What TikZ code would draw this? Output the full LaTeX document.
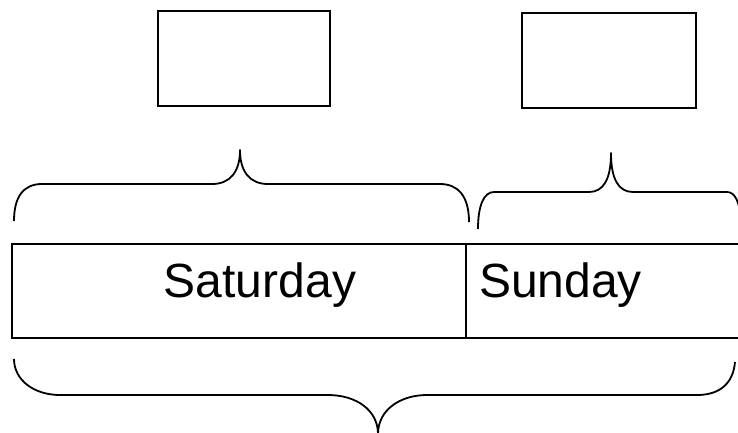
\documentclass[tikz,border=0pt]{standalone}
\usepackage{fontspec}
\setmainfont{Liberation Sans}
\begin{document}
\begin{tikzpicture}[x=1pt,y=-1pt,
  topbox/.style={draw, line width=2.4pt, minimum width=172pt, minimum height=95pt, inner sep=0pt},
  cell/.style={draw, line width=2pt, minimum height=94pt, inner sep=0pt},
  daytext/.style={font=\fontsize{48}{56}\selectfont, inner sep=0pt},
  brace/.style={draw, line width=1.8pt, line join=round}]
\useasboundingbox (0,0) rectangle (738,432);
\clip (0,0) rectangle (738,432);
% top boxes
\node[topbox] (boxsat) at (244,58.5) {};
\node[topbox, minimum width=174pt] (boxsun) at (609,60.5) {};
% bar cells
\node[cell, minimum width=454pt] (cellsat) at (239,291) {};
\node[cell, minimum width=294pt] (cellsun) at (613,291) {};
\node[daytext, anchor=base] (sat) at (260,297) {Saturday};
\node[daytext, anchor=base west] (sun) at (479,297) {Sunday};
% brace over Saturday
\path[brace] (14,221) .. controls (14,196) and (24,184) .. (42,184)
  -- (212,184) .. controls (230,184) and (240,172) .. (240,150)
  .. controls (240,172) and (250,184) .. (268,184)
  -- (440,184) .. controls (458,184) and (469,196) .. (469,222);
% brace over Sunday
\path[brace] (478,229) .. controls (478,205) and (484,192) .. (494,192)
  -- (589,192) .. controls (603,192) and (611,180) .. (611,153)
  .. controls (611,180) and (619,192) .. (633,192)
  -- (727,192) .. controls (735,192) and (740,202) .. (741,222);
% brace under whole bar
\path[brace] (14,359) .. controls (14,380) and (34,395) .. (60,395)
  -- (328,395) .. controls (356,395) and (378,410) .. (378,434)
  .. controls (378,410) and (400,395) .. (427,395)
  -- (697,395) .. controls (718,395) and (733,385) .. (735,362);
\end{tikzpicture}
\end{document}
